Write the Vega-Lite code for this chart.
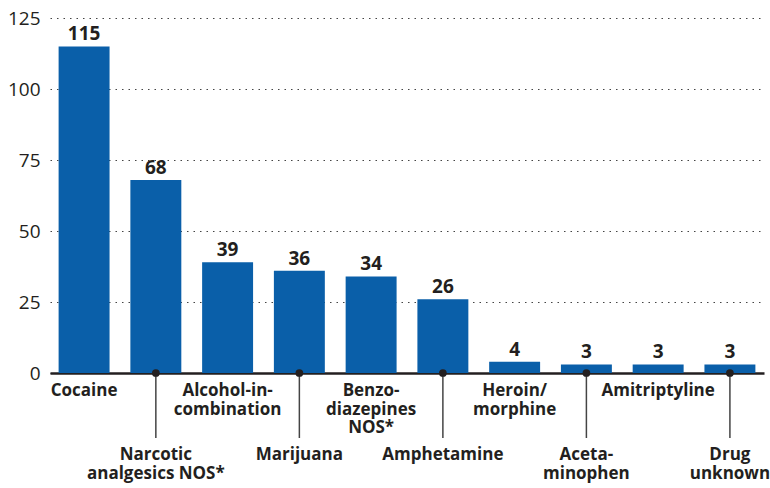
{
  "$schema": "https://vega.github.io/schema/vega-lite/v6.json",
  "width": 714,
  "height": 355,
  "autosize": {"type": "none"},
  "padding": {"left": 50, "top": 18, "right": 6, "bottom": 115},
  "background": "white",
  "config": {
    "view": {"stroke": null},
    "font": "Open Sans",
    "text": {"font": "Open Sans", "color": "#231f20"}
  },
  "data": {
    "values": [
      {"drug": "Cocaine", "count": 115, "label": "Cocaine", "pos": "upper"},
      {"drug": "Narcotic analgesics NOS*", "count": 68, "label": "Narcotic\nanalgesics NOS*", "pos": "lower"},
      {"drug": "Alcohol-in-combination", "count": 39, "label": "Alcohol-in-\ncombination", "pos": "upper"},
      {"drug": "Marijuana", "count": 36, "label": "Marijuana", "pos": "lower"},
      {"drug": "Benzodiazepines NOS*", "count": 34, "label": "Benzo-\ndiazepines\nNOS*", "pos": "upper"},
      {"drug": "Amphetamine", "count": 26, "label": "Amphetamine", "pos": "lower"},
      {"drug": "Heroin/morphine", "count": 4, "label": "Heroin/\nmorphine", "pos": "upper"},
      {"drug": "Acetaminophen", "count": 3, "label": "Aceta-\nminophen", "pos": "lower"},
      {"drug": "Amitriptyline", "count": 3, "label": "Amitriptyline", "pos": "upper"},
      {"drug": "Drug unknown", "count": 3, "label": "Drug\nunknown", "pos": "lower"}
    ]
  },
  "encoding": {
    "x": {
      "field": "drug",
      "type": "nominal",
      "sort": null,
      "scale": {"paddingInner": 0.29, "paddingOuter": 0.12},
      "axis": {
        "title": null,
        "labels": false,
        "ticks": false,
        "domainColor": "#231f20",
        "domainWidth": 2.5,
        "grid": false
      }
    }
  },
  "layer": [
    {
      "mark": {"type": "bar", "color": "#0a5fa9"},
      "encoding": {
        "y": {
          "field": "count",
          "type": "quantitative",
          "scale": {"domain": [0, 125], "nice": false},
          "axis": {
            "title": null,
            "values": [0, 25, 50, 75, 100, 125],
            "domain": false,
            "ticks": false,
            "labelPadding": 10,
            "labelFontSize": 19,
            "labelFont": "Open Sans",
            "labelColor": "#231f20",
            "gridColor": "#444444",
            "gridDash": [1.5, 5],
            "gridWidth": 1.2
          }
        }
      }
    },
    {
      "mark": {"type": "text", "baseline": "bottom", "dy": -2, "fontSize": 19, "fontWeight": "bold"},
      "encoding": {
        "y": {"field": "count", "type": "quantitative"},
        "text": {"field": "count", "type": "quantitative"}
      }
    },
    {
      "transform": [{"filter": "datum.pos === 'lower'"}],
      "mark": {"type": "rule", "color": "#444444", "strokeWidth": 1.5, "y2Offset": 65},
      "encoding": {
        "y": {"datum": 0, "type": "quantitative"},
        "y2": {"datum": 0}
      }
    },
    {
      "transform": [{"filter": "datum.pos === 'lower'"}],
      "mark": {"type": "point", "filled": true, "color": "#231f20", "size": 60, "opacity": 1},
      "encoding": {
        "y": {"datum": 0, "type": "quantitative"}
      }
    },
    {
      "transform": [{"filter": "datum.pos === 'upper'"}],
      "mark": {"type": "text", "baseline": "top", "dy": 10, "fontSize": 17, "fontWeight": "bold", "lineBreak": "\n", "lineHeight": 18.5},
      "encoding": {
        "y": {"datum": 0, "type": "quantitative"},
        "text": {"field": "label"}
      }
    },
    {
      "transform": [{"filter": "datum.pos === 'lower'"}],
      "mark": {"type": "text", "baseline": "top", "dy": 74, "fontSize": 17, "fontWeight": "bold", "lineBreak": "\n", "lineHeight": 18.5},
      "encoding": {
        "y": {"datum": 0, "type": "quantitative"},
        "text": {"field": "label"}
      }
    }
  ]
}
